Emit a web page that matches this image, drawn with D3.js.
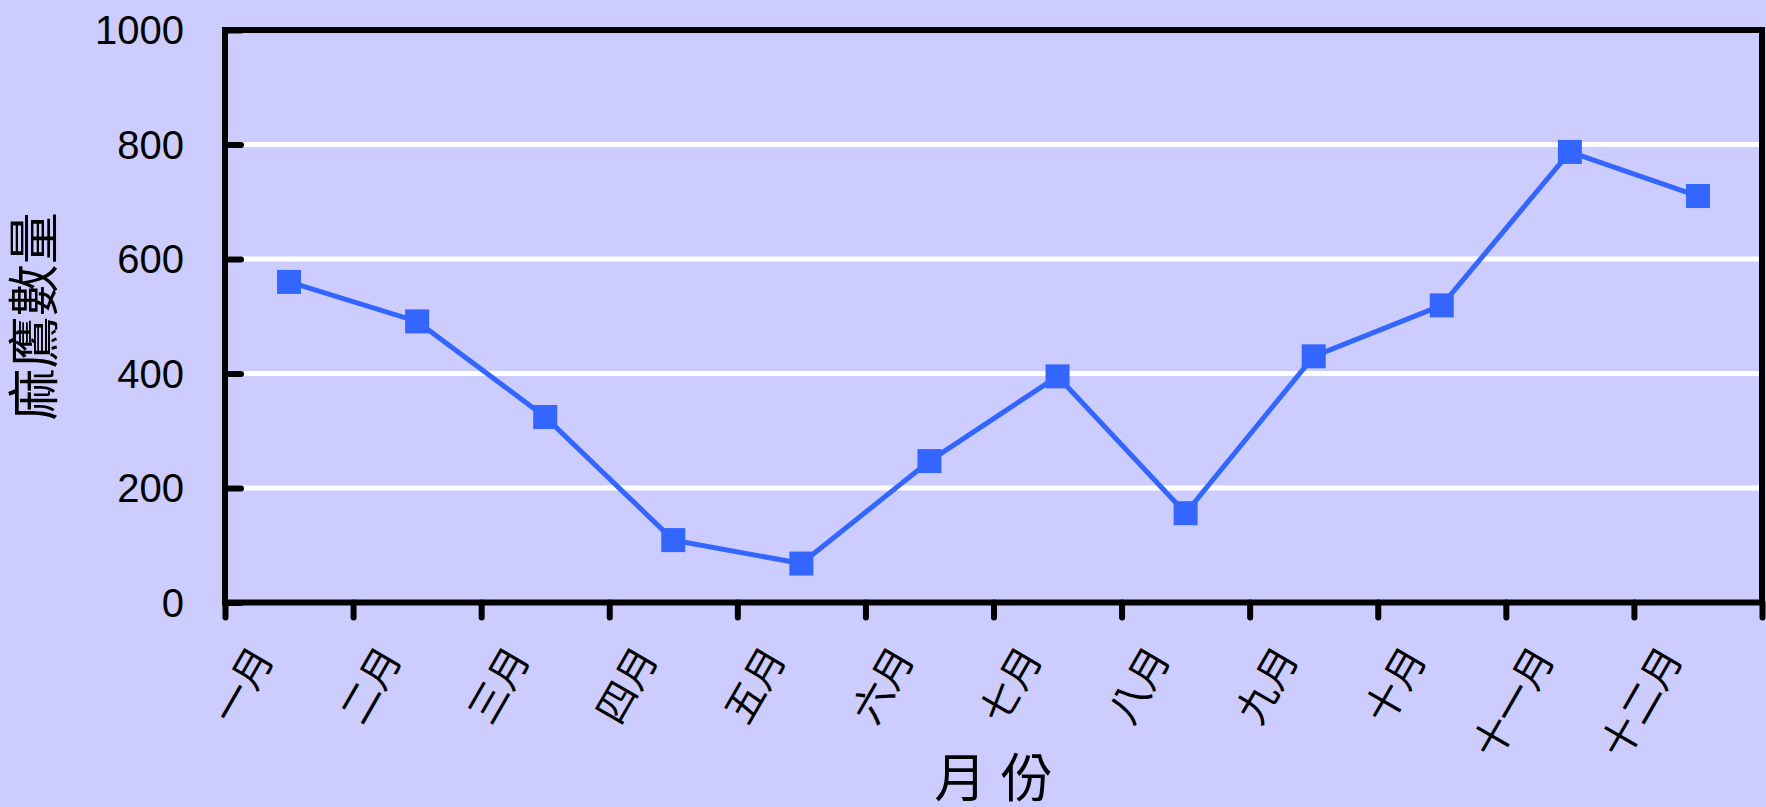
<!DOCTYPE html>
<html>
<head>
<meta charset="utf-8">
<script src="https://cdn.jsdelivr.net/npm/d3@7"></script>
<style>
  body { margin: 0; background: #ccccff; }
  svg { display: block; }
  text { font-family: "Liberation Sans", "Noto Sans CJK TC", sans-serif; fill: #000; }
</style>
</head>
<body>
<div id="chart"></div>
<script>
// data
let months = ["一月","二月","三月","四月","五月","六月","七月","八月","九月","十月","十一月","十二月"];
let counts = [560, 491, 324, 109, 68, 247, 395, 156, 430, 519, 787, 710];
let yTicks = [0, 200, 400, 600, 800, 1000];
let yTitle = "麻鷹數量";
let xTitle = "月 份";

var svgwidth = 1766, svgheight = 807;
var margin = {top: 30, right: 4, bottom: 204.5, left: 225},
    width = svgwidth - margin.left - margin.right,
    height = svgheight - margin.top - margin.bottom;

let svg = d3.select("#chart").append("svg")
    .attr("width", svgwidth)
    .attr("height", svgheight);

svg.append("rect")
    .attr("width", svgwidth).attr("height", svgheight)
    .style("fill", "#ccccff");

let g = svg.append("g")
    .attr("transform", "translate(" + margin.left + "," + margin.top + ")");

let x = d3.scaleBand().domain(months).range([0, width]).padding(0);
let xb = d3.scaleLinear().domain([0, months.length]).range([0, width]);
let y = d3.scaleLinear().domain([0, 1000]).range([height, 0]);

// white gridlines
g.append("g")
    .selectAll("line")
    .data(yTicks.filter(d => d > 0 && d < 1000))
  .enter().append("line")
    .attr("x1", 0).attr("x2", width)
    .attr("y1", d => y(d)).attr("y2", d => y(d))
    .style("stroke", "#fff")
    .style("stroke-width", 5);

// y axis: labels outside, ticks inside
let yAxis = g.append("g")
    .attr("class", "y axis")
    .call(d3.axisRight(y).tickValues(yTicks).tickSize(16).tickFormat(""));
yAxis.select(".domain").remove();
yAxis.selectAll("line")
    .style("stroke", "#000").style("stroke-width", 6).style("stroke-linecap", "round");

g.append("g")
    .selectAll("text")
    .data(yTicks)
  .enter().append("text")
    .attr("x", -41)
    .attr("y", d => y(d))
    .attr("dy", "0.36em")
    .style("text-anchor", "end")
    .style("font-size", "40px")
    .text(d => d);

// x axis ticks at category boundaries
let xAxis = g.append("g")
    .attr("class", "x axis")
    .attr("transform", "translate(0," + height + ")")
    .call(d3.axisBottom(xb).tickValues(d3.range(months.length + 1)).tickSize(15).tickFormat(""));
xAxis.select(".domain").remove();
xAxis.selectAll("line")
    .style("stroke", "#000").style("stroke-width", 6).style("stroke-linecap", "round");

// rotated month labels
g.append("g")
    .selectAll("text")
    .data(months)
  .enter().append("text")
    .attr("transform", d => "translate(" + (x(d) + x.bandwidth() / 2 - 14) + "," + (height + 55) + ") rotate(-60)")
    .style("text-anchor", "end")
    .style("font-size", "40px")
    .text(d => d);

// plot frame
g.append("rect")
    .attr("width", width).attr("height", height)
    .style("fill", "none")
    .style("stroke", "#000")
    .style("stroke-width", 6);

// series
let line = d3.line()
    .x((d, i) => x(months[i]) + x.bandwidth() / 2)
    .y(d => y(d));

g.append("path")
    .datum(counts)
    .attr("d", line)
    .style("fill", "none")
    .style("stroke", "#3366ff")
    .style("stroke-width", 5);

let ms = 24;
g.selectAll(".marker")
    .data(counts)
  .enter().append("rect")
    .attr("class", "marker")
    .attr("x", (d, i) => x(months[i]) + x.bandwidth() / 2 - ms / 2)
    .attr("y", d => y(d) - ms / 2)
    .attr("width", ms).attr("height", ms)
    .style("fill", "#3366ff");

// axis titles
svg.append("text")
    .attr("transform", "translate(35," + (margin.top + height / 2) + ") rotate(-90)")
    .attr("dy", "0.35em")
    .style("text-anchor", "middle")
    .style("font-size", "52px")
    .text(yTitle);

svg.append("text")
    .attr("x", margin.left + width / 2)
    .attr("y", 797)
    .style("text-anchor", "middle")
    .style("font-size", "52px")
    .text(xTitle);
</script>
</body>
</html>
